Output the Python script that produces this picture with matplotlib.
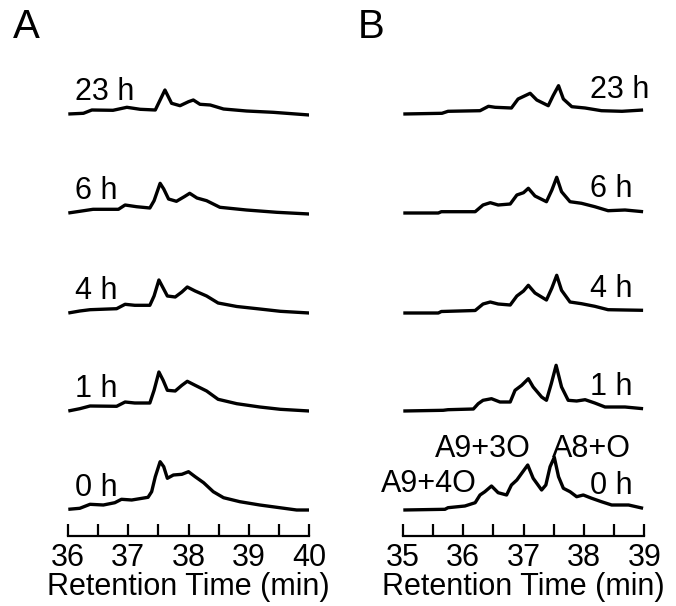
import matplotlib.pyplot as plt
import numpy as np

plt.rcParams['font.family'] = ['Liberation Sans', 'DejaVu Sans']

labels = ['0 h', '1 h', '4 h', '6 h', '23 h']

# panel A: retention time (min) / signal (a.u.) per sampling time
a_t = {
    '0 h':  [36.01, 36.20, 36.37, 36.59, 36.78, 36.89, 37.06, 37.33, 37.39, 37.45, 37.53, 37.59, 37.65,
             37.75, 37.89, 38.00, 38.11, 38.25, 38.41, 38.58, 38.85, 39.18, 39.51, 39.79, 40.00],
    '1 h':  [36.01, 36.20, 36.37, 36.81, 36.95, 37.11, 37.36, 37.43, 37.51, 37.58, 37.65, 37.78, 37.89,
             37.98, 38.11, 38.30, 38.49, 38.80, 39.18, 39.52, 40.00],
    '4 h':  [36.01, 36.20, 36.37, 36.81, 36.95, 37.11, 37.36, 37.43, 37.51, 37.58, 37.65, 37.78, 37.89,
             37.98, 38.11, 38.30, 38.49, 38.80, 39.18, 39.52, 40.00],
    '6 h':  [36.01, 36.20, 36.42, 36.84, 36.95, 37.14, 37.36, 37.43, 37.53, 37.59, 37.67, 37.80, 37.93,
             38.02, 38.14, 38.30, 38.52, 38.96, 39.46, 40.00],
    '23 h': [36.01, 36.26, 36.40, 36.75, 36.98, 37.20, 37.45, 37.53, 37.61, 37.72, 37.86, 38.00, 38.08,
             38.19, 38.36, 38.58, 38.96, 39.40, 40.00],
}
a_y = {
    '0 h':  [0.7, 1.7, 5.7, 5, 7.3, 10.7, 10, 12.7, 18.3, 33.3, 48.3, 43.3, 31.7,
             35, 35.7, 38.3, 33.3, 27.3, 18.3, 12.3, 8.3, 5, 2.3, 0, 0],
    '1 h':  [0, 2.3, 5, 4.7, 9, 8, 8, 20.7, 39, 30.7, 20.7, 20, 25.7,
             29.7, 25.7, 20, 11.7, 7.3, 4, 1.7, 0],
    '4 h':  [0, 2, 3.3, 4.3, 8.7, 7.7, 7.7, 17, 33, 25, 17, 16, 21,
             26, 22, 17, 10, 6.5, 4, 1.7, 0],
    '6 h':  [0, 1.7, 3.7, 3.7, 8, 6.3, 5, 12.3, 29.7, 24, 14, 11.7, 16.3,
             19.7, 15, 12.3, 5.7, 3, 0.7, -1],
    '23 h': [0, 0.7, 4, 3.7, 6.7, 4.7, 4, 14, 24, 10.7, 8.3, 12.3, 14,
             9.7, 9, 5, 3, 1.7, -1],
}

# panel B
b_t = {
    '0 h':  [35.01, 35.70, 35.75, 36.03, 36.20, 36.28, 36.36, 36.47, 36.58, 36.72, 36.80, 36.89, 36.97,
             37.07, 37.16, 37.30, 37.37, 37.44, 37.51, 37.58, 37.66, 37.77, 37.88, 37.99, 38.13, 38.29,
             38.46, 38.74, 38.98],
    '1 h':  [35.01, 35.67, 35.75, 36.17, 36.25, 36.33, 36.47, 36.61, 36.78, 36.86, 36.97, 37.08, 37.16,
             37.30, 37.38, 37.46, 37.54, 37.63, 37.74, 37.88, 38.02, 38.18, 38.35, 38.68, 38.98],
    '4 h':  [35.01, 35.59, 35.64, 36.20, 36.33, 36.45, 36.58, 36.78, 36.89, 37.00, 37.08, 37.19, 37.38,
             37.47, 37.55, 37.63, 37.77, 37.96, 38.18, 38.40, 38.68, 38.98],
    '6 h':  [35.01, 35.59, 35.64, 36.20, 36.33, 36.45, 36.58, 36.78, 36.89, 37.00, 37.08, 37.19, 37.38,
             37.47, 37.55, 37.63, 37.77, 37.96, 38.18, 38.40, 38.68, 38.98],
    '23 h': [35.01, 35.65, 35.75, 36.28, 36.42, 36.53, 36.80, 36.91, 37.11, 37.22, 37.41, 37.49, 37.58,
             37.66, 37.80, 38.02, 38.29, 38.63, 38.98],
}
b_y = {
    '0 h':  [0, 0.7, 2.3, 4, 7.3, 15, 18.3, 24, 17.3, 15, 25, 30, 36.7,
             45, 31.7, 20, 25, 43.3, 52.7, 33.3, 21.7, 18.3, 13.3, 15, 11.7, 8.3,
             5, 5, 1.7],
    '1 h':  [0, 0.7, 1.3, 2, 7.3, 10.7, 12.3, 9, 9, 20.7, 25.7, 32.3, 24,
             14, 10.7, 27.3, 45.7, 24, 10.7, 10, 11.3, 8, 4, 4, 2.3],
    '4 h':  [0, 0, 1.5, 2.5, 9, 11, 9, 8, 17, 22, 27.7, 20, 13,
             25, 37.7, 22.7, 11, 9.3, 6.7, 3.3, 3, 2.7],
    '6 h':  [0, 0, 1.3, 1.3, 8, 10.3, 8, 9, 18, 20.3, 24.7, 17, 11.3,
             23, 35.7, 21.3, 11.3, 9.7, 6.3, 2.3, 3, 1.3],
    '23 h': [0, 0.7, 2.7, 3.3, 7.7, 6.7, 6, 15, 20.7, 14, 8.3, 18.3, 28.3,
             15, 7.3, 6, 3.3, 2.7, 4],
}

offsets = [0, 99, 197, 297, 396]
peak_names = ['A9+4O', 'A9+3O', 'A8+O']
peak_pos = [(35.44, 18), (36.33, 53), (38.13, 53)]

fs = 22

fig = plt.figure(figsize=(6.76, 6.06), dpi=100)
axA = fig.add_axes([67.7 / 676, 70 / 606, 241.6 / 676, 496 / 606])
axB = fig.add_axes([402.7 / 676, 70 / 606, 241.6 / 676, 496 / 606])

for lab, off in zip(labels, offsets):
    axA.plot(a_t[lab], np.array(a_y[lab]) + off, color='black', lw=2.4,
             solid_joinstyle='round', solid_capstyle='butt')
    axA.text(36.12, off + 14, lab, fontsize=fs, ha='left', va='baseline')
    axB.plot(b_t[lab], np.array(b_y[lab]) + off, color='black', lw=2.4,
             solid_joinstyle='round', solid_capstyle='butt')
    axB.text(38.1, off + 16, lab, fontsize=fs, ha='left', va='baseline')

for name, (x, y) in zip(peak_names, peak_pos):
    axB.text(x, y, name, fontsize=fs, ha='center', va='baseline')

for ax, lo in [(axA, 36), (axB, 35)]:
    ax.set_xlim(lo, lo + 4)
    ax.set_ylim(-26, 470)
    for s in ['left', 'top', 'right']:
        ax.spines[s].set_visible(False)
    ax.spines['bottom'].set_linewidth(1.6)
    ax.set_yticks([])
    ax.set_xticks(np.arange(lo, lo + 4.01, 1))
    ax.set_xticks(np.arange(lo, lo + 4.01, 0.5), minor=True)
    ax.tick_params(axis='x', which='both', direction='in', length=9, width=1.6, labelsize=fs, pad=5)
    ax.set_xlabel('Retention Time (min)', fontsize=fs, labelpad=-1)
    ax.patch.set_visible(False)

fig.text(13 / 676, 1 - 38 / 606, 'A', fontsize=29, ha='left', va='baseline')
fig.text(358 / 676, 1 - 38 / 606, 'B', fontsize=29, ha='left', va='baseline')

fig.savefig('out.png', dpi=100)
